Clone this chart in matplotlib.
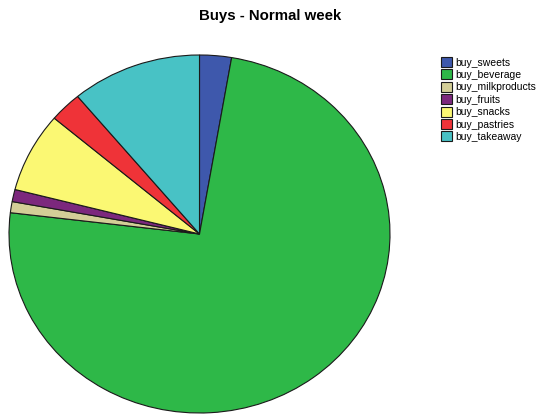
import matplotlib
matplotlib.use('Agg')
import matplotlib.pyplot as plt

plt.rcParams['font.family'] = ['Liberation Sans', 'DejaVu Sans']

labels = ['buy_sweets', 'buy_beverage', 'buy_milkproducts', 'buy_fruits',
          'buy_snacks', 'buy_pastries', 'buy_takeaway']
shares = [2.7, 74.2, 1.0, 1.1, 7.2, 2.75, 11.05]
colors = ['#3e58ac', '#2eb848', '#d3ce97', '#7c287d', '#fbf873', '#ef3338', '#48c2c5']

W, H = 537, 417
fig = plt.figure(figsize=(W / 100, H / 100), dpi=100)

# pie occupies a slightly wide ellipse on the left
ax = fig.add_axes([9 / W, 4 / H, 381 / W, 358 / H])
wedges, _ = ax.pie(shares, colors=colors, startangle=90, counterclock=False,
                   wedgeprops=dict(edgecolor='#1a1a1a', linewidth=0.8))
ax.set_aspect('auto')
ax.set_xlim(-1, 1)
ax.set_ylim(-1, 1)
ax.axis('off')

fig.text(270 / W, 1 - 16 / H, 'Buys - Normal week', ha='center', va='center',
         fontsize=10.8, fontweight='bold')

fig.legend(wedges, labels, loc='upper left', bbox_to_anchor=(441 / W, 1 - 57 / H),
           frameon=False, fontsize=7.5, borderpad=0, borderaxespad=0,
           handlelength=1.05, handleheight=1.1, handletextpad=0.3,
           labelspacing=0.18)

fig.savefig('out.png', dpi=100)
